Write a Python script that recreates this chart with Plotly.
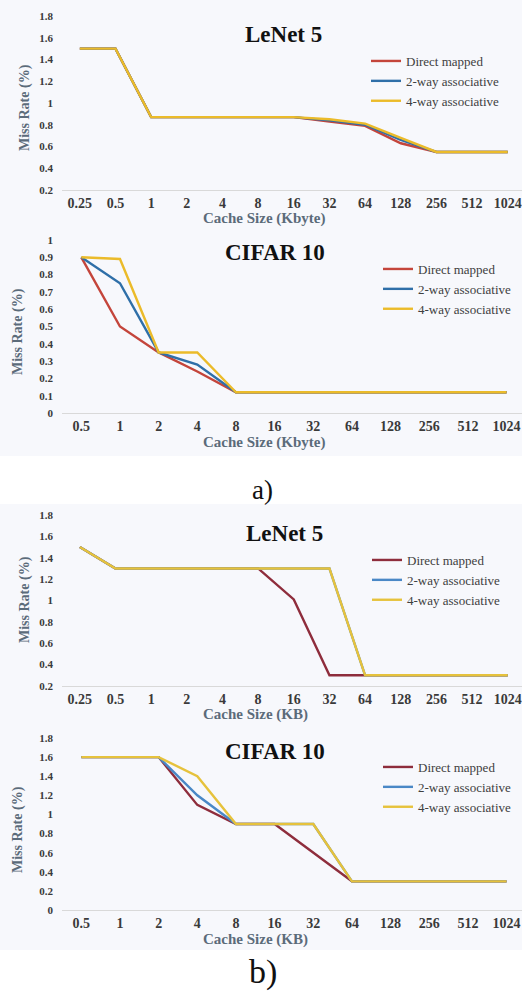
import plotly.graph_objects as go

W, H = 522, 994

# ---- data ----
sizes_a1 = ["0.25", "0.5", "1", "2", "4", "8", "16", "32", "64", "128", "256", "512", "1024"]
lenet_a_direct = [1.5, 1.5, 0.87, 0.87, 0.87, 0.87, 0.87, 0.83, 0.79, 0.63, 0.55, 0.55, 0.55]
lenet_a_2way = [1.5, 1.5, 0.87, 0.87, 0.87, 0.87, 0.87, 0.84, 0.80, 0.66, 0.55, 0.55, 0.55]
lenet_a_4way = [1.5, 1.5, 0.87, 0.87, 0.87, 0.87, 0.87, 0.85, 0.81, 0.68, 0.55, 0.55, 0.55]

sizes_a2 = ["0.5", "1", "2", "4", "8", "16", "32", "64", "128", "256", "512", "1024"]
cifar_a_direct = [0.9, 0.5, 0.35, 0.24, 0.12, 0.12, 0.12, 0.12, 0.12, 0.12, 0.12, 0.12]
cifar_a_2way = [0.9, 0.75, 0.35, 0.28, 0.12, 0.12, 0.12, 0.12, 0.12, 0.12, 0.12, 0.12]
cifar_a_4way = [0.9, 0.89, 0.35, 0.35, 0.12, 0.12, 0.12, 0.12, 0.12, 0.12, 0.12, 0.12]

sizes_b1 = ["0.25", "0.5", "1", "2", "4", "8", "16", "32", "64", "128", "256", "512", "1024"]
lenet_b_direct = [1.5, 1.3, 1.3, 1.3, 1.3, 1.3, 1.01, 0.3, 0.3, 0.3, 0.3, 0.3, 0.3]
lenet_b_2way = [1.5, 1.3, 1.3, 1.3, 1.3, 1.3, 1.3, 1.3, 0.3, 0.3, 0.3, 0.3, 0.3]
lenet_b_4way = [1.5, 1.3, 1.3, 1.3, 1.3, 1.3, 1.3, 1.3, 0.3, 0.3, 0.3, 0.3, 0.3]

sizes_b2 = ["0.5", "1", "2", "4", "8", "16", "32", "64", "128", "256", "512", "1024"]
cifar_b_direct = [1.6, 1.6, 1.6, 1.1, 0.9, 0.9, 0.6, 0.3, 0.3, 0.3, 0.3, 0.3]
cifar_b_2way = [1.6, 1.6, 1.6, 1.2, 0.9, 0.9, 0.9, 0.3, 0.3, 0.3, 0.3, 0.3]
cifar_b_4way = [1.6, 1.6, 1.6, 1.4, 0.9, 0.9, 0.9, 0.3, 0.3, 0.3, 0.3, 0.3]

series_names = ["Direct mapped", "2-way associative", "4-way associative"]
colors_a = ["#C4453B", "#2F6FA8", "#EBBB2A"]
colors_b = ["#8E2D3C", "#4A88C6", "#E6C23C"]

BG = "#F7F8FC"
SERIF = "Liberation Serif, DejaVu Serif, serif"

def py(px):
    return 1 - px / H

def px_x(px):
    return px / W

panels = [
    dict(cats=sizes_a1, data=[lenet_a_direct, lenet_a_2way, lenet_a_4way], colors=colors_a,
         top=16, bot=190, yr=[0.2, 1.8], dt=0.2, xr=[-0.5, 12.4], title="LeNet 5", tx=283, ty=35,
         xt="Cache Size (Kbyte)", xty=218, leg_y=46, leg_x=366, yt_x=25, yt_y=108),
    dict(cats=sizes_a2, data=[cifar_a_direct, cifar_a_2way, cifar_a_4way], colors=colors_a,
         top=240, bot=413, yr=[0, 1], dt=0.1, xr=[-0.5, 11.4], title="CIFAR 10", tx=275, ty=253,
         xt="Cache Size (Kbyte)", xty=442, leg_y=254, leg_x=378, yt_x=18, yt_y=332),
    dict(cats=sizes_b1, data=[lenet_b_direct, lenet_b_2way, lenet_b_4way], colors=colors_b,
         top=515, bot=686, yr=[0.2, 1.8], dt=0.2, xr=[-0.5, 12.4], title="LeNet 5", tx=284, ty=533,
         xt="Cache Size (KB)", xty=714, leg_y=545, leg_x=367, yt_x=25, yt_y=600),
    dict(cats=sizes_b2, data=[cifar_b_direct, cifar_b_2way, cifar_b_4way], colors=colors_b,
         top=738, bot=910, yr=[0, 1.8], dt=0.2, xr=[-0.5, 11.4], title="CIFAR 10", tx=275, ty=751,
         xt="Cache Size (KB)", xty=939, leg_y=752, leg_x=378, yt_x=18, yt_y=830),
]

fig = go.Figure()
layout = dict(
    width=W, height=H, margin=dict(l=0, r=0, t=0, b=0, pad=0, autoexpand=False),
    paper_bgcolor="white", plot_bgcolor=BG, showlegend=True,
    font=dict(family=SERIF, color="#333333"),
)
shapes = [
    dict(type="rect", xref="paper", yref="paper", x0=0, x1=1, y0=py(456), y1=1,
         fillcolor=BG, line=dict(width=0), layer="below"),
    dict(type="rect", xref="paper", yref="paper", x0=0, x1=1, y0=py(950), y1=py(504),
         fillcolor=BG, line=dict(width=0), layer="below"),
]
annotations = []

def ann(text, x, y, size, color, xanchor="center", angle=0):
    return dict(text=text, xref="paper", yref="paper", x=px_x(x), y=py(y),
                xanchor=xanchor, yanchor="middle", showarrow=False, textangle=angle,
                font=dict(family=SERIF, size=size, color=color))

for i, p in enumerate(panels):
    n = i + 1
    xa = "x" if n == 1 else f"x{n}"
    ya = "y" if n == 1 else f"y{n}"
    lg = "legend" if n == 1 else f"legend{n}"
    for name, vals, col in zip(series_names, p["data"], p["colors"]):
        fig.add_trace(go.Scatter(
            x=p["cats"], y=vals, mode="lines", name=name,
            line=dict(color=col, width=2.4), xaxis=xa, yaxis=ya, legend=lg,
        ))
    ticks = []
    v = p["yr"][0]
    while v <= p["yr"][1] + 1e-9:
        ticks.append(round(v, 2))
        v += p["dt"]
    ticktext = [("%g" % t) for t in ticks]
    layout[f"xaxis{'' if n == 1 else n}"] = dict(
        domain=[px_x(62), 1.0], anchor=ya, type="category", range=p["xr"],
        showgrid=False, zeroline=False, showline=True, linecolor="#D9D9D9", linewidth=1,
        ticks="", tickfont=dict(family=SERIF, size=14, color="#3A3A3A", weight="bold"),
        ticklabelstandoff=0, automargin=False,
    )
    layout[f"yaxis{'' if n == 1 else n}"] = dict(
        domain=[py(p["bot"]), py(p["top"])], anchor=xa, range=p["yr"],
        tickvals=ticks, ticktext=ticktext, showgrid=False, zeroline=False, showline=False,
        ticks="", tickfont=dict(family=SERIF, size=11, color="#3A3A3A", weight="bold"),
        ticklabelstandoff=8, automargin=False,
    )
    layout[lg] = dict(
        x=px_x(p["leg_x"]), y=py(p["leg_y"]), xanchor="left", yanchor="top",
        bgcolor="rgba(0,0,0,0)", font=dict(family=SERIF, size=13, color="#404040"),
        itemwidth=30, tracegroupgap=0,
    )
    annotations.append(ann("<b>" + p["title"] + "</b>", p["tx"], p["ty"], 23, "#111111"))
    annotations.append(ann("<b>" + p["xt"] + "</b>", 201, p["xty"], 15, "#5B6B7A", xanchor="left"))
    annotations.append(ann("<b>Miss Rate (%)</b>", p["yt_x"], p["yt_y"], 14, "#5B6B7A", angle=-90))

annotations.append(ann("a)", 262, 490, 27, "#111111"))
annotations.append(ann("b)", 263, 972, 34, "#111111"))

layout["shapes"] = shapes
layout["annotations"] = annotations
fig.update_layout(**layout)
fig.write_html("out.html", config={"displayModeBar": False},
               post_script="document.body.style.margin='0';document.body.style.overflow='hidden';")
